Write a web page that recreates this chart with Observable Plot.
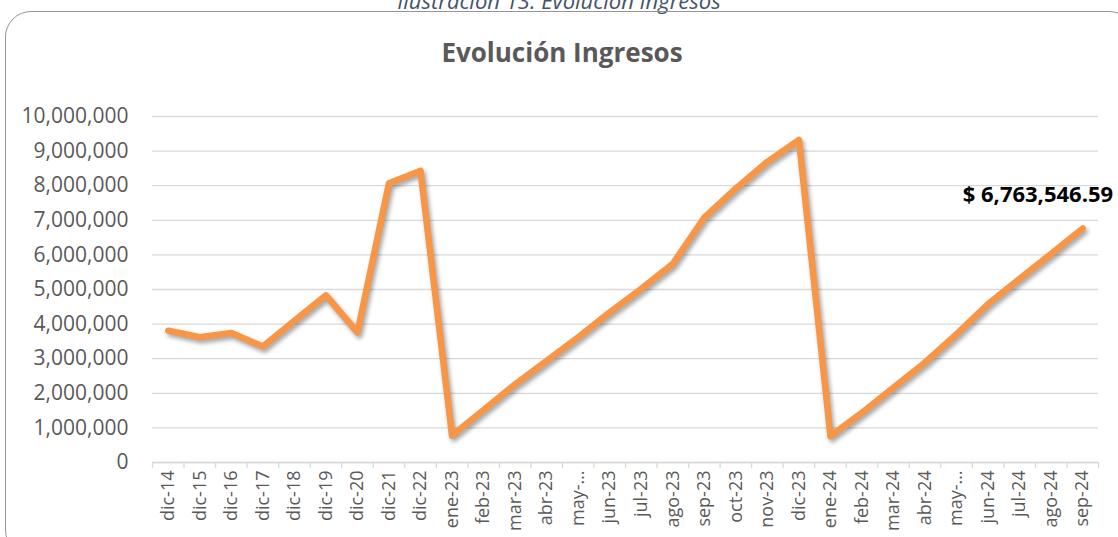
<!DOCTYPE html>
<html>
<head>
<meta charset="utf-8">
<script src="https://cdn.jsdelivr.net/npm/d3@7"></script>
<script src="https://cdn.jsdelivr.net/npm/@observablehq/plot@0.6"></script>
<style>
  html, body { margin: 0; padding: 0; background: #fff; }
  #wrap { position: relative; width: 1118px; height: 537px; overflow: hidden; font-family: "Open Sans", sans-serif; }
  #frame { position: absolute; left: 5px; top: 11px; width: 1130px; height: 545px; border: 1.5px solid #969696; border-radius: 26px; box-sizing: border-box; }
  #caption { position: absolute; left: 0; width: 1118px; top: -11px; text-align: center; font-style: italic; font-size: 22px; line-height: 22px; color: #44546A; }
  #title { position: absolute; left: 0; width: 1124px; top: 39px; text-align: center; font-weight: bold; font-size: 26px; line-height: 26px; color: #595959; }
  #chart { position: absolute; left: 0; top: 0; }
  #chart g[aria-label="line"] path { filter: drop-shadow(2px 3px 2px rgba(0,0,0,0.35)); }
</style>
</head>
<body>
<div id="wrap">
  <div id="caption">Ilustración 13: Evolución Ingresos</div>
  <div id="frame"></div>
  <div id="title">Evolución Ingresos</div>
  <div id="chart"></div>
</div>
<script>
const categories = ["dic-14","dic-15","dic-16","dic-17","dic-18","dic-19","dic-20","dic-21","dic-22",
  "ene-23","feb-23","mar-23","abr-23","may-…","jun-23","jul-23","ago-23","sep-23","oct-23","nov-23","dic-23",
  "ene-24","feb-24","mar-24","abr-24","may-…","jun-24","jul-24","ago-24","sep-24"];
const ingresos = [3810000,3620000,3740000,3350000,4100000,4830000,3760000,8070000,8430000,
  780000,1520000,2260000,2940000,3620000,4340000,5020000,5740000,7080000,7920000,8690000,9320000,
  760000,1440000,2170000,2890000,3710000,4580000,5310000,6030000,6763546.59];
const yTicks = [0,1000000,2000000,3000000,4000000,5000000,6000000,7000000,8000000,9000000,10000000];

const data = categories.map((c, i) => ({i, c, v: ingresos[i]}));
const last = data[data.length - 1];
const n = categories.length;

const chart = Plot.plot({
  width: 1118,
  height: 537,
  marginLeft: 152,
  marginRight: 20,
  marginTop: 116,
  marginBottom: 75,
  style: {fontFamily: "'Open Sans', sans-serif", color: "#595959", background: "transparent", overflow: "visible"},
  x: {type: "linear", domain: [-0.5, n - 0.5]},
  y: {domain: [0, 10000000]},
  marks: [
    Plot.gridY(yTicks, {stroke: "#d9d9d9", strokeOpacity: 1, strokeWidth: 1.3}),
    Plot.axisY(yTicks, {tickSize: 0, tickPadding: 24, fontSize: 21, fill: "#595959", tickFormat: d3.format(","), label: null}),
    Plot.axisX(d3.range(n), {tickSize: 0, tickPadding: 8, tickRotate: -90, fontSize: 18, fill: "#595959", tickFormat: i => categories[i], label: null}),
    Plot.axisX(d3.range(n + 1).map(i => i - 0.5), {tickSize: 6, stroke: "#d9d9d9", strokeWidth: 1.3, tickFormat: () => "", label: null}),
    Plot.ruleY([0], {stroke: "#d9d9d9", strokeWidth: 1.3}),
    Plot.lineY(data, {x: "i", y: "v", stroke: "#F79646", strokeWidth: 6.5, strokeLinejoin: "round", strokeLinecap: "round"}),
    Plot.text([last], {x: "i", y: "v", text: d => "$ " + d3.format(",.2f")(d.v), textAnchor: "start", dx: -120, dy: -34, fontSize: 22, fontWeight: "bold", fill: "#000"})
  ]
});
document.getElementById("chart").appendChild(chart);
</script>
</body>
</html>
